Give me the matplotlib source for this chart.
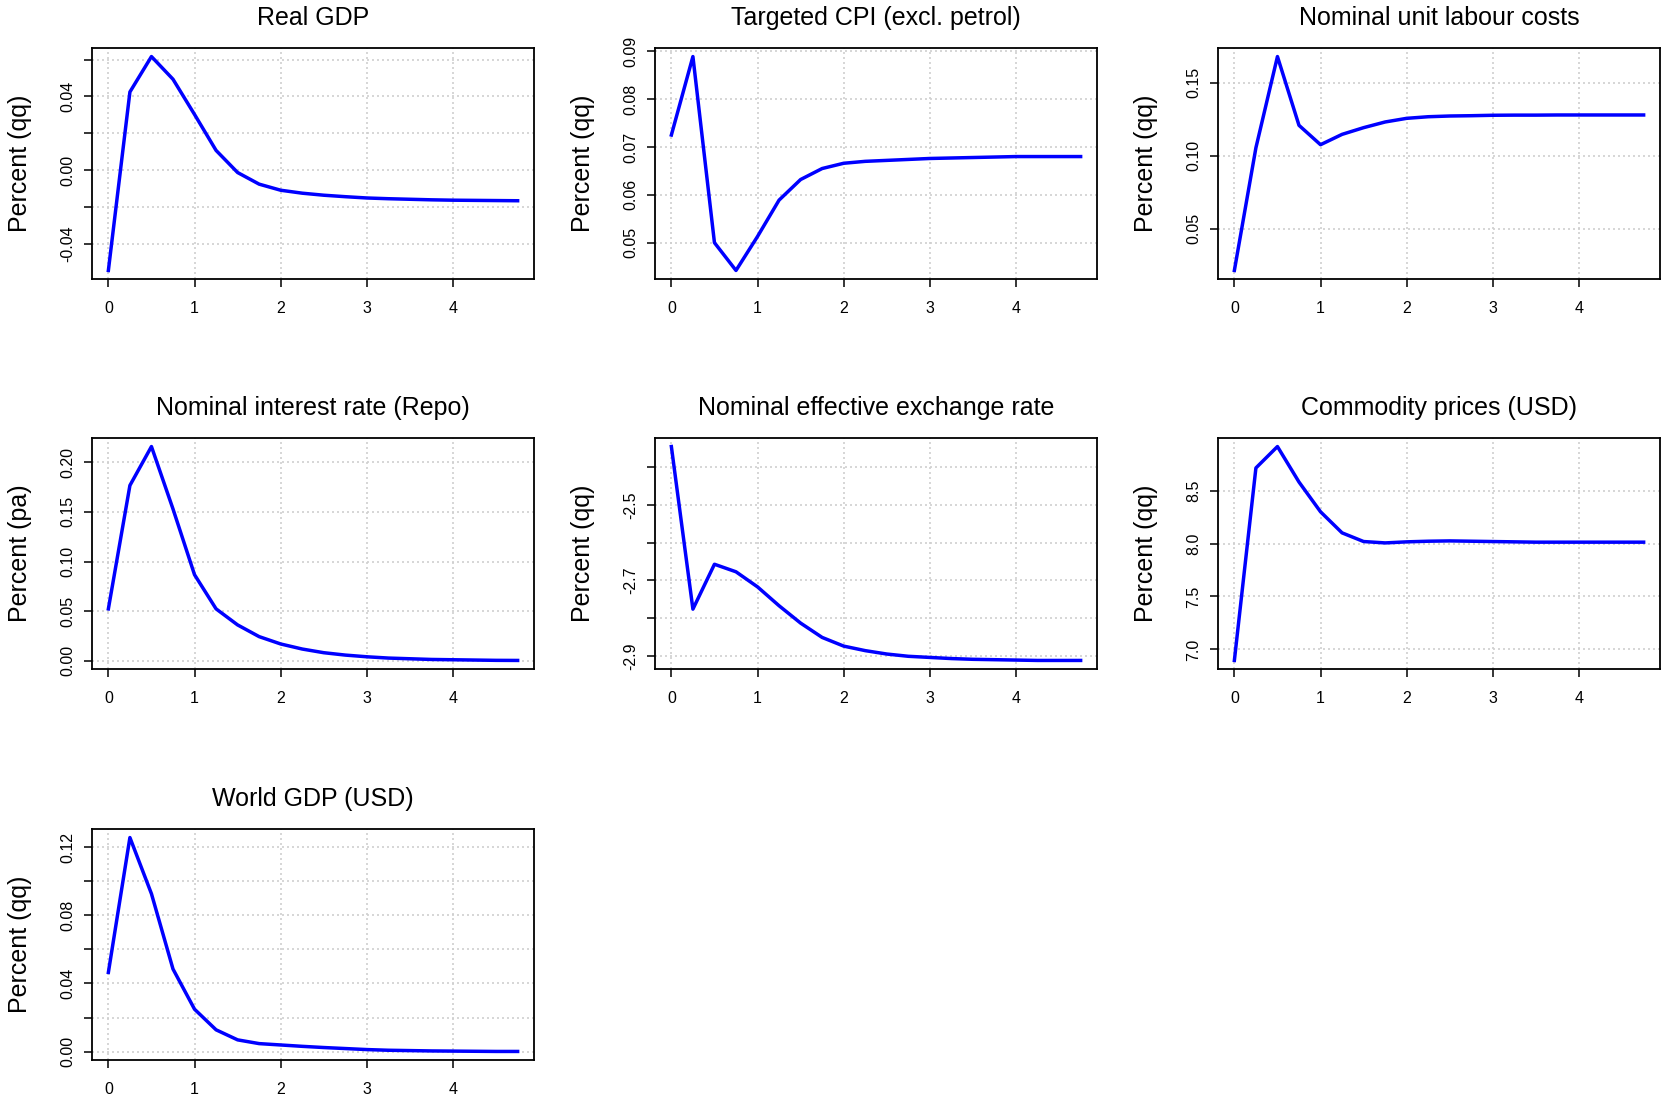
import matplotlib.pyplot as plt

plt.rcParams['font.family'] = ['Liberation Sans', 'DejaVu Sans']

# horizon in years, quarterly steps
years = [q / 4 for q in range(20)]

real_gdp = [-0.0544, 0.0424, 0.0616, 0.0493, 0.0302, 0.0107, -0.0013, -0.0076, -0.0109, -0.0125,
            -0.0136, -0.0144, -0.0151, -0.0155, -0.0158, -0.0161, -0.0163, -0.0164, -0.0165, -0.0166]
cpi = [0.0725, 0.0889, 0.0500, 0.0442, 0.0513, 0.0589, 0.0632, 0.0655, 0.0666, 0.0670,
       0.0672, 0.0674, 0.0676, 0.0677, 0.0678, 0.0679, 0.0680, 0.0680, 0.0680, 0.0680]
unit_labour = [0.0213, 0.1055, 0.1681, 0.1209, 0.1076, 0.1147, 0.1193, 0.1232, 0.1257, 0.1268,
               0.1273, 0.1275, 0.1278, 0.1279, 0.1279, 0.1280, 0.1280, 0.1280, 0.1280, 0.1280]
repo = [0.0523, 0.1767, 0.2159, 0.1530, 0.0867, 0.0523, 0.0361, 0.0243, 0.0169, 0.0118,
        0.0081, 0.0057, 0.0040, 0.0027, 0.0020, 0.0013, 0.0010, 0.0007, 0.0004, 0.0003]
neer = [-2.345, -2.776, -2.657, -2.677, -2.717, -2.767, -2.813, -2.851, -2.874, -2.886,
        -2.895, -2.901, -2.904, -2.907, -2.909, -2.910, -2.911, -2.912, -2.912, -2.912]
commodity = [6.896, 8.714, 8.916, 8.581, 8.300, 8.101, 8.019, 8.006, 8.016, 8.022,
             8.025, 8.022, 8.019, 8.016, 8.013, 8.013, 8.013, 8.013, 8.013, 8.013]
world_gdp = [0.0465, 0.1257, 0.0927, 0.0485, 0.0249, 0.0128, 0.0069, 0.0047, 0.0039, 0.0031,
             0.0024, 0.0018, 0.0012, 0.0008, 0.0006, 0.0004, 0.0003, 0.0002, 0.0001, 0.0001]

titles = ["Real GDP", "Targeted CPI (excl. petrol)", "Nominal unit labour costs",
          "Nominal interest rate (Repo)", "Nominal effective exchange rate", "Commodity prices (USD)",
          "World GDP (USD)"]
ylabels = ["Percent (qq)", "Percent (qq)", "Percent (qq)",
           "Percent (pa)", "Percent (qq)", "Percent (qq)", "Percent (qq)"]
series = [real_gdp, cpi, unit_labour, repo, neer, commodity, world_gdp]

yticks = [
    [-0.04, -0.02, 0.0, 0.02, 0.04, 0.06],
    [0.05, 0.06, 0.07, 0.08, 0.09],
    [0.05, 0.10, 0.15],
    [0.0, 0.05, 0.10, 0.15, 0.20],
    [-2.9, -2.8, -2.7, -2.6, -2.5, -2.4],
    [7.0, 7.5, 8.0, 8.5],
    [0.0, 0.02, 0.04, 0.06, 0.08, 0.10, 0.12],
]
ytick_labels = [
    ["-0.04", "", "0.00", "", "0.04", ""],
    ["0.05", "0.06", "0.07", "0.08", "0.09"],
    ["0.05", "0.10", "0.15"],
    ["0.00", "0.05", "0.10", "0.15", "0.20"],
    ["-2.9", "", "-2.7", "", "-2.5", ""],
    ["7.0", "7.5", "8.0", "8.5"],
    ["0.00", "", "0.04", "", "0.08", "", "0.12"],
]
xticks = [0, 1, 2, 3, 4]

W, H = 1664, 1103
fig = plt.figure(figsize=(W / 100, H / 100), dpi=100)

# panel boxes in pixels: left, top, width, height
col_left = [92, 655, 1218]
row_top = [48, 438, 829]
box_w, box_h = 442, 231

for i, (y, title, ylab) in enumerate(zip(series, titles, ylabels)):
    r, c = divmod(i, 3)
    ax = fig.add_axes([col_left[c] / W, 1 - (row_top[r] + box_h) / H, box_w / W, box_h / H])
    ax.plot(years, y, color="#0000FF", linewidth=2.5, zorder=3)
    ax.margins(0.04)
    ax.set_xticks(xticks, [str(t) for t in xticks])
    ax.set_yticks(yticks[i], ytick_labels[i])
    ax.grid(True, color="#CFCFCF", linestyle=(0, (1.2, 1.8)), linewidth=1.2)
    for side in ax.spines.values():
        side.set_linewidth(1.3)
    ax.tick_params(axis="both", length=6, width=1.1, labelsize=11.5)
    ax.tick_params(axis="x", pad=10)
    ax.tick_params(axis="y", pad=6, labelrotation=90)
    for lbl in ax.get_yticklabels():
        lbl.set_va("center")
    ax.text(0.5, 1 + 23 / box_h, title, transform=ax.transAxes, ha="center", va="baseline", fontsize=18)
    ax.set_ylabel(ylab, fontsize=18, va="center")
    ax.yaxis.set_label_coords(-72 / box_w, 0.5)

fig.savefig("out.png", dpi=100)
